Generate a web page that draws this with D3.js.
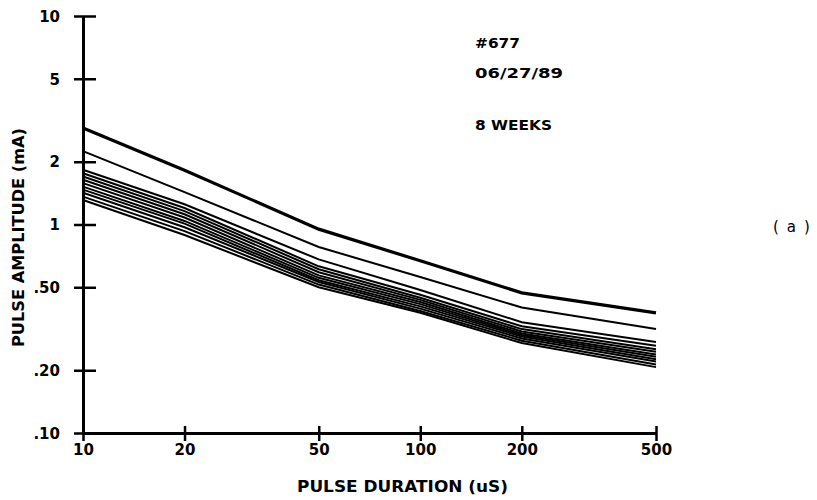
<!DOCTYPE html>
<head>
  <meta charset="utf-8">
  <script src="https://d3js.org/d3.v7.min.js"></script>
  <style>
    body { margin: 0; background: #fff; }
    text { font-family: "DejaVu Sans", sans-serif; font-weight: bold; fill: #000; }
  </style>
</head>
<body>
<svg width="817" height="500"></svg>

<script type="text/javascript">

// pulse durations (uS) where each curve was measured
var durations = [10, 20, 50, 100, 200, 500];

// pulse amplitude (mA) for each electrode
var curves = [
  [2.90, 1.82, 0.95, 0.670, 0.470, 0.377],
  [2.25, 1.43, 0.78, 0.560, 0.400, 0.315],
  [1.83, 1.25, 0.68, 0.485, 0.340, 0.273],
  [1.76, 1.20, 0.63, 0.460, 0.325, 0.262],
  [1.70, 1.16, 0.61, 0.445, 0.315, 0.252],
  [1.64, 1.12, 0.59, 0.435, 0.307, 0.245],
  [1.58, 1.08, 0.57, 0.425, 0.300, 0.238],
  [1.52, 1.04, 0.555, 0.415, 0.295, 0.232],
  [1.47, 1.01, 0.54, 0.405, 0.290, 0.226],
  [1.42, 0.97, 0.53, 0.395, 0.284, 0.220],
  [1.36, 0.93, 0.515, 0.385, 0.277, 0.213],
  [1.31, 0.89, 0.50, 0.377, 0.270, 0.207]
];

var xTicks = [10, 20, 50, 100, 200, 500];
var yTicks = [10, 5, 2, 1, 0.5, 0.2, 0.1];
var yTickLabels = ["10", "5", "2", "1", ".50", ".20", ".10"];

var notes = ["#677", "06/27/89", "8 WEEKS"];

var svg = d3.select("svg");

var x = d3.scaleLog().domain([10, 500]).range([83, 656]);
var y = d3.scaleLog().domain([0.1, 10]).range([433, 16]);

// y axis, ticks crossing the line
var yAxis = svg.append("g")
    .attr("transform", "translate(83,0)")
    .call(d3.axisLeft(y).tickValues(yTicks)
      .tickFormat(function(d, i) { return yTickLabels[i]; })
      .tickSize(0).tickPadding(23));
yAxis.select(".domain").attr("stroke-width", 3);
yAxis.selectAll(".tick line").attr("x1", -9).attr("x2", 13).attr("stroke-width", 2.5);
yAxis.selectAll(".tick text")
    .style("font-size", "15px").attr("fill", "#000").attr("dy", "0.35em");

// x axis
var xAxis = svg.append("g")
    .attr("transform", "translate(0,433)")
    .call(d3.axisBottom(x).tickValues(xTicks)
      .tickFormat(d3.format("d"))
      .tickSize(0).tickPadding(11));
xAxis.select(".domain").attr("stroke-width", 3);
xAxis.selectAll(".tick line").attr("y1", -7).attr("y2", 8).attr("stroke-width", 2.5);
xAxis.selectAll(".tick text")
    .style("font-size", "15px").attr("fill", "#000");

// curves
var line = d3.line()
    .x(function(d, i) { return x(durations[i]); })
    .y(function(d) { return y(d); });

svg.selectAll("path.curve")
    .data(curves)
  .enter()
  .append("path")
    .attr("class", "curve")
    .attr("d", line)
    .attr("fill", "none")
    .attr("stroke", "#000")
    .attr("stroke-width", function(d, i) { return i == 0 ? 3.2 : 2; });

// axis titles
svg.append("text")
    .attr("x", 297).attr("y", 492)
    .attr("textLength", 211).attr("lengthAdjust", "spacingAndGlyphs")
    .style("font-size", "15px")
    .text("PULSE DURATION (uS)");

svg.append("text")
    .attr("transform", "translate(24,347) rotate(-90)")
    .attr("textLength", 219).attr("lengthAdjust", "spacingAndGlyphs")
    .style("font-size", "15px")
    .text("PULSE AMPLITUDE (mA)");

// notes in the upper right
var noteY = [48, 78, 130], noteW = [45, 88, 77];
svg.selectAll("text.note")
    .data(notes)
  .enter()
  .append("text")
    .attr("class", "note")
    .attr("x", 475)
    .attr("y", function(d, i) { return noteY[i]; })
    .attr("textLength", function(d, i) { return noteW[i]; })
    .attr("lengthAdjust", "spacingAndGlyphs")
    .style("font-size", "14px")
    .text(function(d) { return d; });

svg.append("text")
    .attr("x", 773).attr("y", 232)
    .style("font-size", "15px")
    .style("font-weight", "normal")
    .style("letter-spacing", "8px")
    .text("(a)");
</script>

</body>
</html>
